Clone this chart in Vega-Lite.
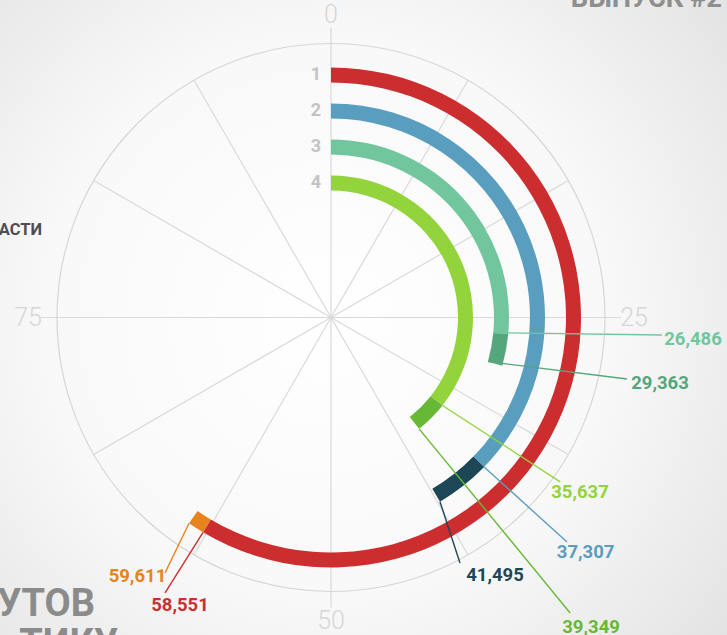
{
  "$schema": "https://vega.github.io/schema/vega-lite/v6.json",
  "width": 727,
  "height": 635,
  "autosize": {"type": "none"},
  "padding": 0,
  "background": "#f0f0f0",
  "config": {"view": {"stroke": null}, "font": "Roboto"},
  "layer": [
    {
      "data": {"values": [{"x0": -331, "x1": 396, "y0": -317.5, "y1": 317.5}]},
      "mark": {"type": "rect", "color": {"gradient": "radial", "x1": 0.45, "y1": 0.5, "x2": 0.45, "y2": 0.5, "r1": 0, "r2": 0.72, "stops": [{"offset": 0, "color": "#ffffff"}, {"offset": 0.55, "color": "#f8f8f8"}, {"offset": 1, "color": "#e2e2e2"}]}},
      "encoding": {
        "x": {"field": "x0", "type": "quantitative", "scale": {"domain": [-331, 396], "nice": false, "zero": false}, "axis": null},
        "x2": {"field": "x1"},
        "y": {"field": "y0", "type": "quantitative", "scale": {"domain": [-317.5, 317.5], "nice": false, "zero": false}, "axis": null},
        "y2": {"field": "y1"}
      }
    },
    {
      "data": {"values": [
        {"t": 0, "major": true}, {"t": 8.3333, "major": false}, {"t": 16.6667, "major": false},
        {"t": 25, "major": true}, {"t": 33.3333, "major": false}, {"t": 41.6667, "major": false},
        {"t": 50, "major": true}, {"t": 58.3333, "major": false}, {"t": 66.6667, "major": false},
        {"t": 75, "major": true}, {"t": 83.3333, "major": false}, {"t": 91.6667, "major": false}
      ]},
      "transform": [
        {"calculate": "datum.major ? 290 : 274", "as": "r"},
        {"calculate": "datum.r * sin(datum.t * 2 * PI / 100)", "as": "ex"},
        {"calculate": "datum.r * cos(datum.t * 2 * PI / 100)", "as": "ey"},
        {"calculate": "0", "as": "cx"}
      ],
      "mark": {"type": "rule", "color": "#d9d9d9", "strokeWidth": 1.2},
      "encoding": {
        "x": {"field": "cx", "type": "quantitative", "scale": {"domain": [-331, 396], "nice": false, "zero": false}, "axis": null},
        "y": {"field": "cx", "type": "quantitative", "scale": {"domain": [-317.5, 317.5], "nice": false, "zero": false}, "axis": null},
        "x2": {"field": "ex"},
        "y2": {"field": "ey"}
      }
    },
    {
      "data": {"values": [{"c": 0, "t0": 0, "t1": 100, "r": 0.333}]},
      "mark": {"type": "arc", "filled": false, "color": "#d6d6d6", "strokeWidth": 1.2},
      "encoding": {
        "x": {"field": "c", "type": "quantitative", "scale": {"domain": [-331, 396], "nice": false, "zero": false}, "axis": null},
        "y": {"field": "c", "type": "quantitative", "scale": {"domain": [-317.5, 317.5], "nice": false, "zero": false}, "axis": null},
        "theta": {"field": "t0", "type": "quantitative", "scale": {"domain": [0, 100], "range": [0, 6.283185307]}},
        "theta2": {"field": "t1"},
        "radius": {"field": "r", "type": "quantitative", "scale": {"type": "linear", "domain": [0, 5], "range": [286, 106], "zero": false, "nice": false}},
        "radius2": {"field": "r"}
      }
    },
    {
      "data": {"values": [{"tick": "0", "t": 0}, {"tick": "25", "t": 25}, {"tick": "50", "t": 50}, {"tick": "75", "t": 75}]},
      "transform": [
        {"calculate": "303 * sin(datum.t * 2 * PI / 100)", "as": "tx"},
        {"calculate": "303 * cos(datum.t * 2 * PI / 100)", "as": "ty"}
      ],
      "mark": {"type": "text", "fontSize": 25, "fontWeight": 300, "color": "#d6d6d6", "align": "center", "baseline": "middle"},
      "encoding": {
        "x": {"field": "tx", "type": "quantitative", "scale": {"domain": [-331, 396], "nice": false, "zero": false}, "axis": null},
        "y": {"field": "ty", "type": "quantitative", "scale": {"domain": [-317.5, 317.5], "nice": false, "zero": false}, "axis": null},
        "text": {"field": "tick"}
      }
    },
    {
      "data": {"values": [
        {"ring": 1, "seg": "1a", "t0": 0, "t1": 58.551},
        {"ring": 1, "seg": "1b", "t0": 58.551, "t1": 59.611},
        {"ring": 2, "seg": "2a", "t0": 0, "t1": 37.307},
        {"ring": 2, "seg": "2b", "t0": 37.307, "t1": 41.495},
        {"ring": 3, "seg": "3a", "t0": 0, "t1": 26.486},
        {"ring": 3, "seg": "3b", "t0": 26.486, "t1": 29.363},
        {"ring": 4, "seg": "4a", "t0": 0, "t1": 35.637},
        {"ring": 4, "seg": "4b", "t0": 35.637, "t1": 39.349}
      ]},
      "transform": [
        {"calculate": "datum.ring + 0.4167", "as": "ringIn"},
        {"calculate": "0", "as": "c"}
      ],
      "mark": {"type": "arc"},
      "encoding": {
        "x": {"field": "c", "type": "quantitative", "scale": {"domain": [-331, 396], "nice": false, "zero": false}, "axis": null},
        "y": {"field": "c", "type": "quantitative", "scale": {"domain": [-317.5, 317.5], "nice": false, "zero": false}, "axis": null},
        "theta": {"field": "t0", "type": "quantitative", "scale": {"domain": [0, 100], "range": [0, 6.283185307]}},
        "theta2": {"field": "t1"},
        "radius": {"field": "ring", "type": "quantitative", "scale": {"type": "linear", "domain": [0, 5], "range": [286, 106], "zero": false, "nice": false}},
        "radius2": {"field": "ringIn"},
        "color": {"field": "seg", "type": "nominal", "legend": null, "scale": {"domain": ["1a", "1b", "2a", "2b", "3a", "3b", "4a", "4b"], "range": ["#cc2e30", "#e8821c", "#5a9ebf", "#1d4656", "#71c69d", "#56a67c", "#93d43c", "#67b935"]}}
      }
    },
    {
      "data": {"values": [{"ring": 1, "name": "1"}, {"ring": 2, "name": "2"}, {"ring": 3, "name": "3"}, {"ring": 4, "name": "4"}]},
      "transform": [
        {"calculate": "278.5 - 36 * datum.ring", "as": "ry"},
        {"calculate": "0", "as": "c"}
      ],
      "mark": {"type": "text", "fontSize": 18, "fontWeight": "bold", "color": "#c3c3c3", "align": "center", "baseline": "middle", "dx": -15},
      "encoding": {
        "x": {"field": "c", "type": "quantitative", "scale": {"domain": [-331, 396], "nice": false, "zero": false}, "axis": null},
        "y": {"field": "ry", "type": "quantitative", "scale": {"domain": [-317.5, 317.5], "nice": false, "zero": false}, "axis": null},
        "text": {"field": "name"}
      }
    },
    {
      "data": {"name": "labels"},
      "transform": [
        {"calculate": "datum.side == 'inner' ? 271 - 36 * datum.ring : 286 - 36 * datum.ring", "as": "r0"},
        {"calculate": "datum.r0 * sin(datum.value * 2 * PI / 100)", "as": "sx"},
        {"calculate": "datum.r0 * cos(datum.value * 2 * PI / 100)", "as": "sy"},
        {"calculate": "datum.lr * sin(datum.lt * 2 * PI / 100)", "as": "ex"},
        {"calculate": "datum.lr * cos(datum.lt * 2 * PI / 100)", "as": "ey"}
      ],
      "mark": {"type": "rule", "strokeWidth": 1.4},
      "encoding": {
        "x": {"field": "sx", "type": "quantitative", "scale": {"domain": [-331, 396], "nice": false, "zero": false}, "axis": null},
        "y": {"field": "sy", "type": "quantitative", "scale": {"domain": [-317.5, 317.5], "nice": false, "zero": false}, "axis": null},
        "x2": {"field": "ex"},
        "y2": {"field": "ey"},
        "color": {"field": "seg", "type": "nominal", "legend": null}
      }
    },
    {
      "data": {"name": "labels"},
      "transform": [
        {"calculate": "datum.tr * sin(datum.tt * 2 * PI / 100)", "as": "tx"},
        {"calculate": "datum.tr * cos(datum.tt * 2 * PI / 100)", "as": "ty"}
      ],
      "mark": {"type": "text", "fontSize": 18.5, "fontWeight": "bold", "align": "center", "baseline": "middle", "dy": 1},
      "encoding": {
        "x": {"field": "tx", "type": "quantitative", "scale": {"domain": [-331, 396], "nice": false, "zero": false}, "axis": null},
        "y": {"field": "ty", "type": "quantitative", "scale": {"domain": [-317.5, 317.5], "nice": false, "zero": false}, "axis": null},
        "text": {"field": "label"},
        "color": {"field": "seg", "type": "nominal", "legend": null}
      }
    },
    {
      "data": {"values": [
        {"txt": "ВЫПУСК #2", "fx": 391, "fy": 310.5, "kind": "m"},
        {"txt": "АСТИ", "fx": -289, "fy": 82.5, "kind": "s"},
        {"txt": "УТОВ", "fx": -236, "fy": -298.5, "kind": "l"},
        {"txt": "ТИКУ", "fx": -213, "fy": -338.5, "kind": "l"}
      ]},
      "mark": {"type": "text", "fontWeight": "bold", "align": "right", "baseline": "alphabetic"},
      "encoding": {
        "x": {"field": "fx", "type": "quantitative", "scale": {"domain": [-331, 396], "nice": false, "zero": false}, "axis": null},
        "y": {"field": "fy", "type": "quantitative", "scale": {"domain": [-317.5, 317.5], "nice": false, "zero": false}, "axis": null},
        "text": {"field": "txt"},
        "size": {"field": "kind", "type": "nominal", "legend": null, "scale": {"domain": ["s", "m", "l"], "range": [16.5, 38, 47]}},
        "fill": {"field": "kind", "type": "nominal", "legend": null, "scale": {"domain": ["s", "m", "l"], "range": ["#4e4e4e", "#8e8e8e", "#8b8b8b"]}}
      }
    }
  ],
  "datasets": {
    "labels": [
      {"label": "26,486", "seg": "3a", "ring": 3, "value": 26.486, "side": "inner", "lt": 25.84, "lr": 331.5, "tt": 25.9, "tr": 362.6},
      {"label": "29,363", "seg": "3b", "ring": 3, "value": 29.363, "side": "inner", "lt": 28.26, "lr": 302.3, "tt": 28.08, "tr": 335.3},
      {"label": "35,637", "seg": "4a", "ring": 4, "value": 35.637, "side": "outer", "lt": 34.9, "lr": 282, "tt": 34.69, "tr": 303.5},
      {"label": "39,349", "seg": "4b", "ring": 4, "value": 39.349, "side": "outer", "lt": 39.17, "lr": 380.1, "tt": 38.85, "tr": 403.4},
      {"label": "37,307", "seg": "2a", "ring": 2, "value": 37.307, "side": "outer", "lt": 37.1, "lr": 325.7, "tt": 36.81, "tr": 345.4},
      {"label": "41,495", "seg": "2b", "ring": 2, "value": 41.495, "side": "outer", "lt": 42.3, "lr": 277.3, "tt": 40.95, "tr": 304.5},
      {"label": "58,551", "seg": "1a", "ring": 1, "value": 58.551, "side": "outer", "lt": 58.63, "lr": 321.6, "tt": 57.72, "tr": 323.9},
      {"label": "59,611", "seg": "1b", "ring": 1, "value": 59.611, "side": "outer", "lt": 59.17, "lr": 304.7, "tt": 60.26, "tr": 322.1}
    ]
  }
}
